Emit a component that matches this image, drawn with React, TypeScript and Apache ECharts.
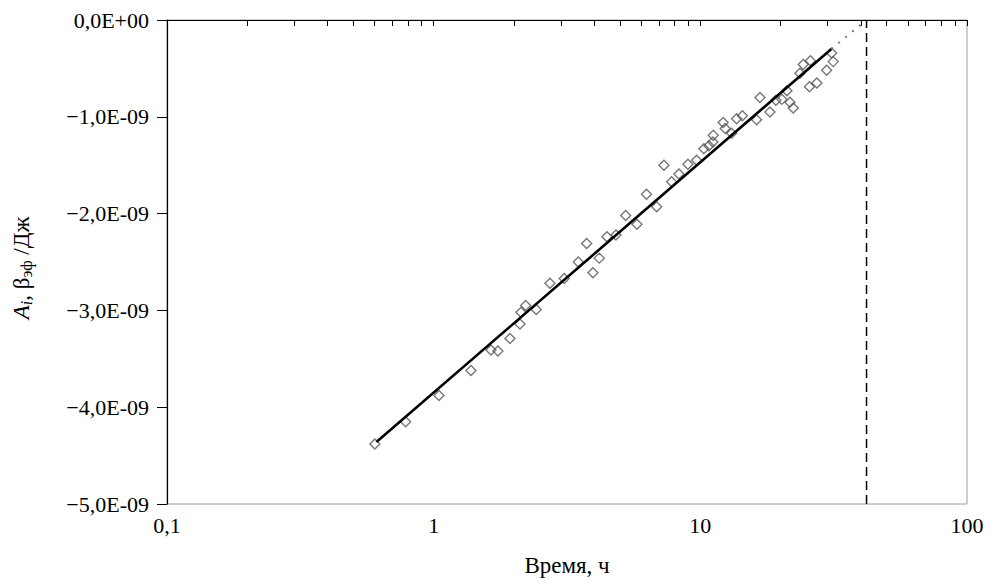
import React, { useEffect, useRef } from "react";
import * as echarts from "echarts";

// Measured points: time (h) and A_i (in units of 1E-09 J)
const timeHours = [
  0.602, 0.785, 1.047, 1.38, 1.64, 1.742, 1.932, 2.107, 2.125, 2.213,
  2.425, 2.73, 3.088, 3.485, 3.747, 3.957, 4.178, 4.466, 4.826, 5.248,
  5.786, 6.281, 6.859, 7.304, 7.804, 8.315, 8.985, 9.685, 10.31, 10.77,
  11.18, 11.15, 12.18, 12.4, 13.1, 13.68, 14.38, 16.26, 16.73, 18.24,
  19.21, 20.23, 21.12, 21.68, 22.3, 23.63, 24.31, 25.87, 25.65, 27.36,
  29.77, 31.51, 31.07,
];
const energyValues = [
  -4.38, -4.15, -3.88, -3.62, -3.41, -3.42, -3.29, -3.14, -3.02, -2.95,
  -2.99, -2.72, -2.67, -2.5, -2.31, -2.61, -2.46, -2.24, -2.22, -2.02,
  -2.11, -1.8, -1.93, -1.5, -1.67, -1.59, -1.49, -1.45, -1.33, -1.3,
  -1.19, -1.26, -1.06, -1.12, -1.17, -1.02, -0.99, -1.03, -0.8, -0.95,
  -0.83, -0.82, -0.73, -0.85, -0.91, -0.55, -0.46, -0.42, -0.69, -0.65,
  -0.52, -0.43, -0.34,
];

// Regression line and its extrapolation to zero
const fitTime = [0.61, 31];
const fitEnergy = [-4.36, -0.3];
const extTime = [31, 42];
const extEnergy = [-0.3, 0];

// Time at which A_i reaches zero
const limitTime = 42;
const limitEnergy = [-5, 0];

// Log-axis tick positions (major and minor)
const xTickValues = [
  0.1, 0.2, 0.3, 0.4, 0.5, 0.6, 0.7, 0.8, 0.9,
  1, 2, 3, 4, 5, 6, 7, 8, 9,
  10, 20, 30, 40, 50, 60, 70, 80, 90, 100,
];

const FONT = "Liberation Serif";

export default function App() {
  const ref = useRef<HTMLDivElement>(null);

  useEffect(() => {
    if (!ref.current) return;
    const chart = echarts.init(ref.current, undefined, { renderer: "svg" });

    const points = timeHours.map((t, i) => [t, energyValues[i]]);
    const fit = fitTime.map((t, i) => [t, fitEnergy[i]]);
    const ext = extTime.map((t, i) => [t, extEnergy[i]]);
    const limit = limitEnergy.map((e) => [limitTime, e]);

    chart.setOption({
      animation: false,
      backgroundColor: "#fff",
      textStyle: { fontFamily: FONT },
      grid: {
        left: 167,
        right: 28,
        top: 20,
        bottom: 81,
        show: true,
        borderColor: "#9a9a9a",
        borderWidth: 1,
        backgroundColor: "transparent",
      },
      xAxis: {
        type: "log",
        logBase: 10,
        min: 0.1,
        max: 100,
        name: "Время, ч",
        nameLocation: "middle",
        nameGap: 50,
        nameTextStyle: { fontFamily: FONT, fontSize: 23, color: "#000" },
        axisLine: { show: true, lineStyle: { color: "#000", width: 1.2 } },
        axisTick: {
          show: true,
          inside: false,
          length: 6,
          customValues: xTickValues,
          lineStyle: { color: "#000", width: 1 },
        },
        minorTick: { show: false },
        splitLine: { show: false },
        axisLabel: {
          margin: 10,
          fontFamily: FONT,
          fontSize: 22,
          color: "#000",
          formatter: (v: number) => String(v).replace(".", ","),
        },
      },
      yAxis: {
        type: "value",
        min: -5,
        max: 0,
        interval: 1,
        axisLine: { show: true, lineStyle: { color: "#000", width: 1.2 } },
        axisTick: { show: true, inside: false, length: 10, lineStyle: { color: "#000" } },
        splitLine: { show: false },
        axisLabel: {
          margin: 18,
          fontFamily: FONT,
          fontSize: 22,
          color: "#000",
          formatter: (v: number) =>
            v === 0
              ? "0,0E+00"
              : "\u2212" + Math.abs(v).toFixed(1).replace(".", ",") + "E-09",
        },
      },
      graphic: [
        {
          type: "text",
          x: 21,
          y: 268,
          rotation: Math.PI / 2,
          style: {
            text: "{it|A}{subit|i}{n|, β}{sub|эф}{n| /Дж}",
            align: "center",
            verticalAlign: "middle",
            fill: "#000",
            rich: {
              it: { fontFamily: FONT, fontSize: 23, fontStyle: "italic", lineHeight: 26 },
              n: { fontFamily: FONT, fontSize: 23, lineHeight: 26 },
              subit: {
                fontFamily: FONT,
                fontSize: 16,
                fontStyle: "italic",
                lineHeight: 16,
                verticalAlign: "bottom",
              },
              sub: { fontFamily: FONT, fontSize: 16, lineHeight: 16, verticalAlign: "bottom" },
            },
          },
        },
      ],
      series: [
        {
          type: "scatter",
          data: points,
          symbol: "diamond",
          symbolSize: 10,
          itemStyle: { color: "rgba(0,0,0,0)", borderColor: "#555", borderWidth: 1.4 },
          z: 2,
        },
        {
          type: "line",
          data: fit,
          symbol: "none",
          lineStyle: { color: "#000", width: 2.6 },
          z: 3,
        },
        {
          type: "line",
          data: ext,
          symbol: "none",
          lineStyle: { color: "#7a7a7a", width: 2, type: [2, 7] },
          z: 3,
        },
        {
          type: "line",
          data: limit,
          symbol: "none",
          lineStyle: { color: "#000", width: 1.5, type: [9, 5] },
          z: 3,
        },
      ],
    });

    return () => chart.dispose();
  }, []);

  return (
    <div
      ref={ref}
      style={{ position: "absolute", left: 0, top: 0, width: 995, height: 585 }}
    />
  );
}
